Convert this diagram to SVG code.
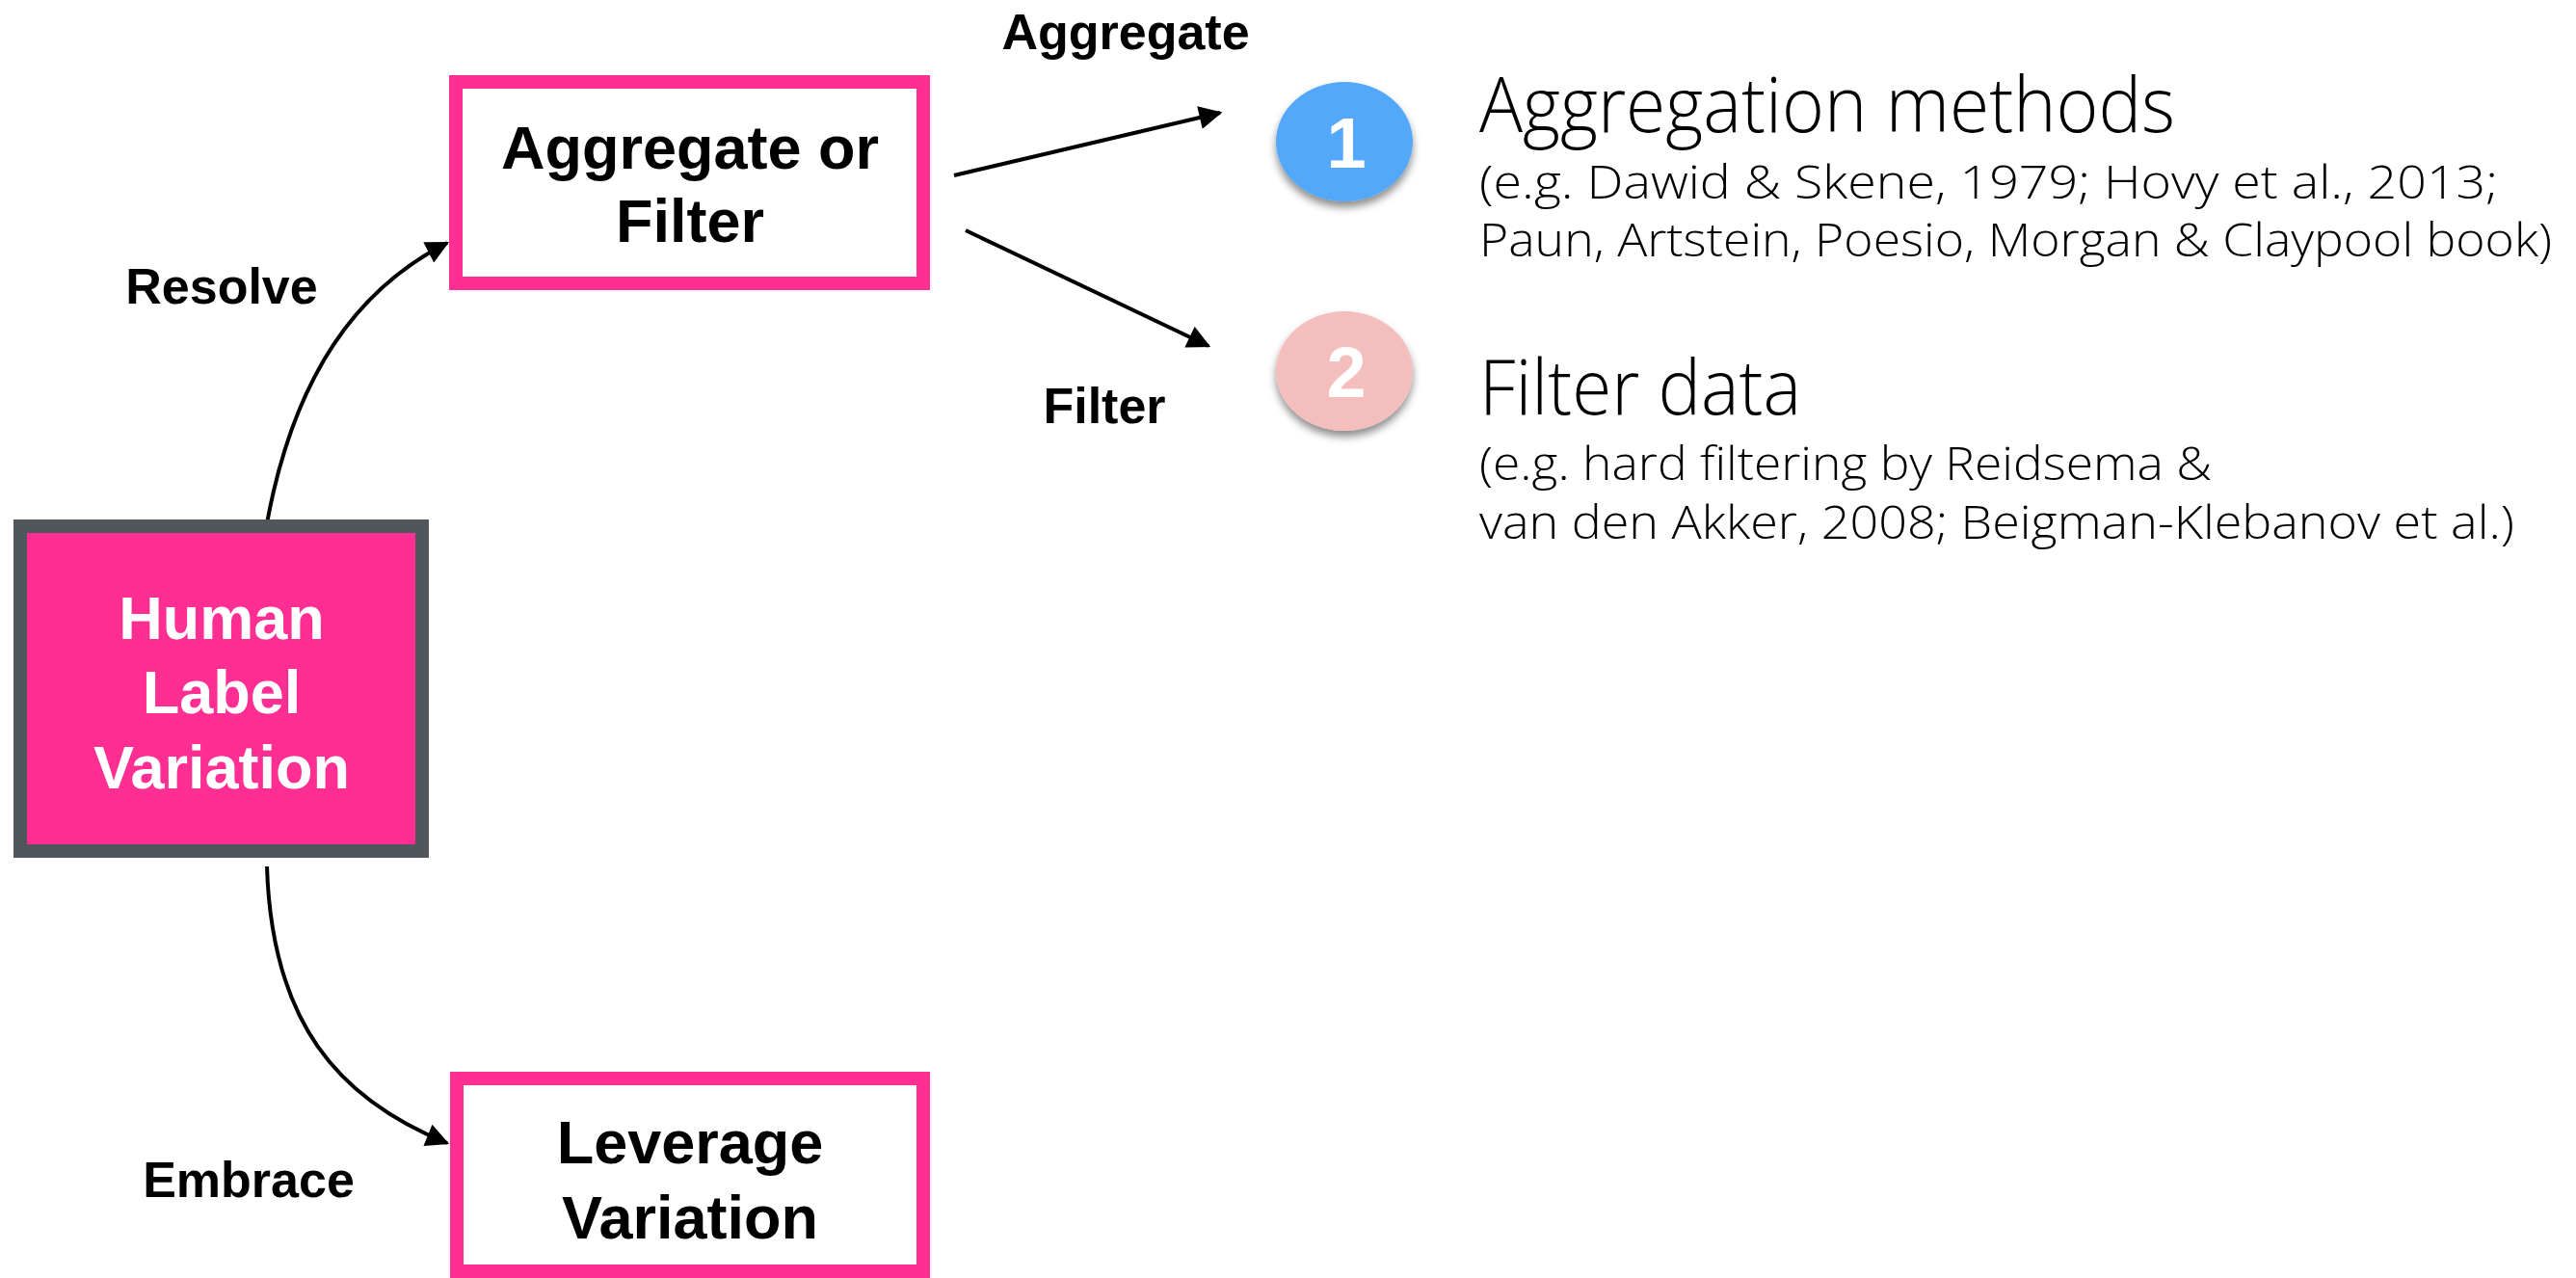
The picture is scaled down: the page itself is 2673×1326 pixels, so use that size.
<svg xmlns="http://www.w3.org/2000/svg" width="2673" height="1326" viewBox="0 0 2673 1326">
<style>
.box{fill:#fff;stroke:#FF2E92;stroke-width:14}
.bold{font-family:"Liberation Sans",Arial,sans-serif;font-weight:bold;text-anchor:middle}
.lbl{font-size:52px;fill:#000}
.node{font-size:63px;fill:#000}
.wnode{font-size:63px;fill:#fff}
.num{font-size:74px;fill:#fff}
.conn{fill:none;stroke:#000;stroke-width:4}
.desc{font-family:"Open Sans","Lato",sans-serif;font-weight:300;fill:#000}
.big{font-size:80px}
.small{font-size:47px}
</style>
<defs>
<marker id="arr" viewBox="0 0 10 10" refX="9" refY="5" markerWidth="6.5" markerHeight="6" markerUnits="strokeWidth" orient="auto">
<path d="M0,0 L10,5 L0,10 z" fill="#000"/>
</marker>
<filter id="sh" x="-30%" y="-30%" width="160%" height="170%">
<feDropShadow dx="0" dy="6" stdDeviation="4" flood-color="#000" flood-opacity="0.45"/>
</filter>
</defs>
<rect width="2673" height="1326" fill="#fff"/>

<g id="connectors">
<path class="conn" d="M277,543 C305,390 370,300 464,252" marker-end="url(#arr)"/>
<path class="conn" d="M277,899 C282,1060 350,1140 464,1186" marker-end="url(#arr)"/>
<path class="conn" d="M990,182 L1266,117" marker-end="url(#arr)"/>
<path class="conn" d="M1002,239 L1254,359" marker-end="url(#arr)"/>
<text class="bold lbl" x="230" y="315">Resolve</text>
<text class="bold lbl" x="1168" y="51">Aggregate</text>
<text class="bold lbl" x="1146" y="439">Filter</text>
<text class="bold lbl" x="258" y="1242">Embrace</text>
</g>

<g id="node-hlv">
<rect x="21" y="546" width="417" height="337" fill="#FF2E92" stroke="#51555C" stroke-width="14"/>
<text class="bold wnode" x="230" y="663">Human</text>
<text class="bold wnode" x="230" y="740">Label</text>
<text class="bold wnode" x="230" y="818">Variation</text>
</g>

<g id="node-aggfilter">
<rect class="box" x="473" y="85" width="485" height="209"/>
<text class="bold node" x="716" y="175">Aggregate or</text>
<text class="bold node" x="716" y="251">Filter</text>
</g>

<g id="node-leverage">
<rect class="box" x="474" y="1119" width="484" height="200"/>
<text class="bold node" x="716" y="1207">Leverage</text>
<text class="bold node" x="716" y="1285">Variation</text>
</g>

<g id="node-1">
<ellipse cx="1395" cy="147" rx="71" ry="62" fill="#52A8F9" filter="url(#sh)"/>
<text class="bold num" x="1397" y="174">1</text>
</g>

<g id="node-2">
<ellipse cx="1395" cy="385" rx="71" ry="62" fill="#F4BEBC" filter="url(#sh)"/>
<text class="bold num" x="1397" y="412">2</text>
</g>

<g id="text-1">
<text class="desc big" x="1535" y="137" textLength="722" lengthAdjust="spacingAndGlyphs">Aggregation methods</text>
<text class="desc small" x="1535" y="206" textLength="1057" lengthAdjust="spacingAndGlyphs">(e.g. Dawid &amp; Skene, 1979; Hovy et al., 2013;</text>
<text class="desc small" x="1535" y="266" textLength="1113" lengthAdjust="spacingAndGlyphs">Paun, Artstein, Poesio, Morgan &amp; Claypool book)</text>
</g>

<g id="text-2">
<text class="desc big" x="1535" y="430" textLength="334" lengthAdjust="spacingAndGlyphs">Filter data</text>
<text class="desc small" x="1535" y="498" textLength="760" lengthAdjust="spacingAndGlyphs">(e.g. hard filtering by Reidsema &amp;</text>
<text class="desc small" x="1535" y="559" textLength="1074" lengthAdjust="spacingAndGlyphs">van den Akker, 2008; Beigman-Klebanov et al.)</text>
</g>
</svg>
